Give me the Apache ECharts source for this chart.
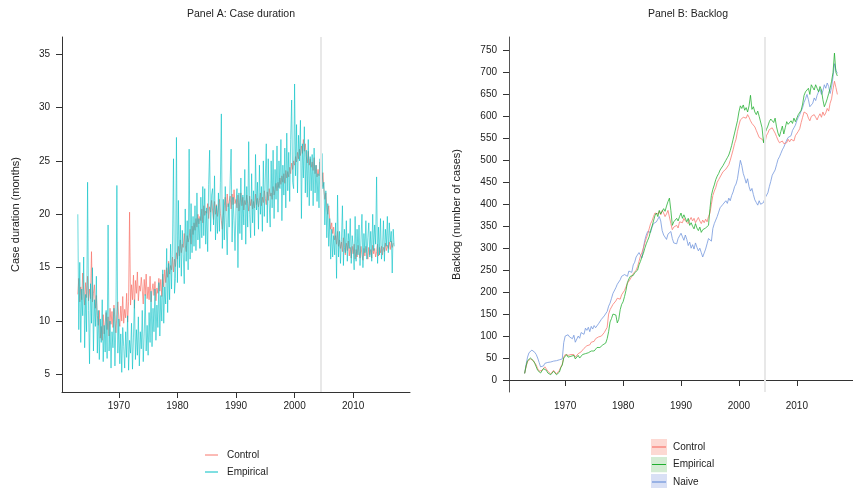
<!DOCTYPE html>
<html>
<head>
<meta charset="utf-8">
<script src="https://cdn.jsdelivr.net/npm/echarts@6/dist/echarts.min.js"></script>
<style>
  html, body { margin: 0; padding: 0; background: #fff; }
  #main { width: 853px; height: 488px; }
</style>
</head>
<body>
<div id="main"></div>
<script>
// Panel A: case duration, bi-monthly readings starting 1963
var startA = 1963;
var perYearA = 6;
var durationControl = [
  12.5, 14.0, 11.8, 13.2, 12.0, 14.5,
  12.8, 11.5, 13.6, 12.2, 14.2, 11.9,
  13.0, 12.1, 16.5, 11.8, 12.6, 13.4,
  11.2, 12.4, 10.5, 9.6, 11.0, 8.4,
  9.5, 8.2, 10.6, 8.8, 9.9, 10.8,
  9.2, 10.4, 8.6, 11.2, 9.7, 10.9,
  9.4, 11.5, 10.1, 8.9, 10.6, 11.8,
  10.2, 9.5, 11.4, 10.0, 12.3, 9.8,
  11.1, 10.3, 12.6, 9.9, 11.8, 20.2,
  11.5, 13.4, 12.0, 14.3, 11.2, 13.8,
  12.6, 14.6, 11.9, 13.3, 12.8, 14.1,
  13.0, 11.6, 13.9, 12.4, 14.4, 12.1,
  13.2, 12.0, 14.2, 11.8, 12.9, 13.5,
  12.4, 13.7, 11.9, 13.1, 12.6, 14.0,
  12.8, 13.9, 12.3, 14.4, 13.2, 14.8,
  13.6, 15.0, 14.1, 15.6, 14.4, 15.2,
  14.8, 16.0, 14.6, 15.8, 15.1, 16.4,
  15.8, 17.0, 16.1, 17.6, 16.4, 17.2,
  16.9, 18.2, 17.1, 16.5, 18.0, 17.4,
  17.8, 18.6, 17.2, 18.9, 18.1, 19.2,
  18.5, 19.6, 18.8, 20.0, 19.1, 19.8,
  19.4, 20.5, 19.2, 20.8, 19.9, 20.3,
  20.1, 21.0, 19.6, 20.7, 20.2, 21.3,
  20.4, 19.5, 21.2, 20.0, 20.9, 19.8,
  20.6, 21.4, 20.1, 19.4, 18.6, 19.9,
  20.8, 21.6, 20.3, 21.9, 20.7, 21.2,
  21.7, 20.5, 21.9, 20.9, 22.3, 21.0,
  21.4, 20.6, 21.8, 20.3, 21.1, 22.0,
  20.8, 21.6, 20.4, 21.3, 20.9, 21.8,
  21.0, 20.3, 21.7, 20.8, 21.4, 20.5,
  21.2, 20.6, 21.9, 20.9, 21.5, 20.7,
  21.3, 22.0, 20.8, 21.6, 21.1, 22.2,
  21.5, 20.9, 22.1, 21.3, 22.4, 21.7,
  22.0, 21.4, 22.6, 21.8, 22.3, 22.9,
  22.2, 23.0, 22.5, 23.4, 22.8, 23.6,
  23.0, 23.8, 22.9, 24.1, 23.4, 24.0,
  23.5, 24.4, 23.8, 24.8, 24.2, 25.0,
  24.6, 25.4, 24.9, 25.8, 25.2, 26.1,
  25.5, 26.4, 25.7, 27.0, 25.9, 26.6,
  25.4, 24.8, 25.9, 24.6, 25.2, 24.4,
  24.9, 24.1, 25.3, 23.8, 24.6, 23.5,
  24.2, 23.6, 24.9, 23.3, 22.6, 23.9,
  22.3, 21.4, 22.0, 20.6, 20.0, 20.8,
  19.4, 18.6, 19.2, 18.2, 18.8, 17.6,
  18.0, 17.2, 18.4, 17.0, 17.6, 16.8,
  17.4, 16.5, 17.8, 16.9, 16.2, 17.3,
  16.6, 17.5, 16.1, 16.9, 15.9, 17.0,
  16.3, 17.2, 15.8, 16.7, 16.0, 17.1,
  16.5, 15.9, 17.0, 16.2, 15.7, 16.8,
  16.1, 17.0, 16.4, 15.8, 16.9, 16.2,
  16.7, 15.9, 17.1, 16.3, 16.8, 16.0,
  16.5, 17.2, 16.1, 16.9, 16.4, 17.0,
  16.2, 16.9, 16.5, 17.3, 16.6, 17.1,
  16.8, 17.4, 16.7, 17.5, 16.9, 17.3,
  17.2
];
var durationEmpirical = [
  20.0, 9.2, 15.5, 8.0, 13.0, 10.5,
  16.0, 7.5, 12.5, 9.0, 23.0, 11.0,
  6.0, 13.5, 9.8, 15.0, 7.2, 12.0,
  9.5, 14.2, 7.0, 11.0, 6.4, 10.2,
  8.0, 12.0, 6.2, 9.6, 7.1, 11.0,
  6.5, 19.0, 7.2, 10.0, 5.6, 9.0,
  7.5, 11.2, 5.8, 9.8, 22.7, 7.0,
  10.2, 6.0, 8.8, 5.2, 9.4, 7.6,
  5.6, 9.0, 6.6, 10.5, 5.4, 8.2,
  7.0, 9.8, 5.5, 8.5, 12.0, 6.4,
  9.2, 6.8, 10.4, 5.8, 9.0, 7.4,
  11.0, 6.2, 8.8, 12.5, 7.2, 9.6,
  6.8, 10.8, 8.0, 12.8, 7.6, 11.2,
  9.0, 13.0, 8.2, 11.5, 9.4, 13.6,
  8.6, 12.4, 10.0, 14.8, 9.8, 13.2,
  11.6, 16.8, 10.8, 15.4, 12.0, 17.2,
  13.0, 17.5, 25.2, 12.6, 14.0, 27.2,
  13.6, 21.3, 15.0, 19.0, 14.2, 18.5,
  16.2, 13.5, 20.5, 15.6, 19.4, 14.8,
  26.1, 15.8, 21.0, 16.4, 19.8, 17.0,
  20.8, 16.6, 22.0, 17.6, 19.6, 16.8,
  21.6, 17.8, 22.6, 18.0, 22.4, 17.2,
  20.6, 16.5, 22.8, 26.0, 18.4, 21.8,
  22.4, 19.0, 23.6, 17.6, 20.8, 18.2,
  22.0, 18.4, 23.0, 29.4, 16.8, 21.4,
  17.6, 22.6, 19.2, 16.2, 21.0, 18.8,
  23.2, 26.1, 17.4, 21.6, 19.4, 16.6,
  20.8, 22.4, 15.0, 22.0, 18.2, 23.4,
  17.6, 21.8, 19.0, 24.2, 17.2, 22.6,
  18.8, 26.8, 20.0, 17.8, 23.8, 19.2,
  22.2, 18.0, 25.6, 20.4, 23.0, 18.6,
  24.6, 20.0, 22.6, 18.4, 25.0, 19.8,
  23.4, 26.6, 19.2, 25.2, 21.0, 18.8,
  25.0, 20.6, 26.0, 19.6, 24.2, 21.4,
  26.4, 20.2, 25.0, 22.4, 27.0, 19.4,
  24.6, 21.8, 26.2, 20.6, 27.6, 22.2,
  25.8, 21.2, 27.0, 30.7, 23.0, 22.4,
  32.2, 23.6, 28.4, 22.0, 27.4, 25.0,
  28.8, 19.6, 26.6, 23.4, 28.2, 22.0,
  26.0, 21.6, 27.0, 20.8, 25.4, 22.2,
  25.6, 20.8, 26.2, 22.0, 24.6, 21.2,
  23.8, 20.6, 25.2, 21.6, 25.7, 22.4,
  23.0, 19.0, 22.2, 17.8, 21.0, 17.0,
  19.6, 15.8, 18.6, 16.0, 18.0, 16.2,
  19.2, 14.0, 21.8, 16.0, 18.4, 15.4,
  17.6, 20.8, 15.2, 18.6, 16.4, 19.4,
  15.6, 18.2, 16.8, 19.6, 15.4, 18.0,
  17.0, 14.8, 19.8, 15.6, 18.6, 16.2,
  19.0, 15.2, 17.6, 20.0, 15.0, 18.2,
  16.4, 19.4, 15.8, 17.8, 19.2, 16.0,
  18.4, 15.6, 20.0, 16.6, 19.0, 17.2,
  23.5, 15.4, 18.8, 16.2, 19.6, 15.8,
  16.8, 19.4, 15.6, 18.6, 17.0, 19.8,
  16.4, 19.2, 17.4, 18.4, 14.5, 18.6,
  17.0
];

// Panel B: backlog, quarterly readings starting 1963
var startB = 1963;
var perYearB = 4;
var backlogControl = [
  15, 30, 42, 46,  48, 47, 44, 40,  34, 26, 20, 18,  22, 26, 30, 26,
  20, 16, 14, 18,  22, 18, 14, 16,  22, 30, 36, 52,  58, 62, 56, 60,
  58, 54, 58, 52,  56, 60, 58, 64,  68, 72, 70, 78,  82, 80, 86, 90,
  88, 94, 92, 98,  96, 100, 104, 108,  106, 120, 150, 160,  166, 172, 168, 180,
  186, 190, 184, 194,  198, 204, 212, 220,  224, 230, 236, 242,  246, 250, 258, 270,
  282, 290, 300, 312,  322, 332, 344, 356,  362, 372, 380, 384,  378, 384, 376, 386,
  380, 372, 378, 386,  382, 356, 342, 348,  344, 352, 346, 360,  364, 358, 368, 362,
  366, 356, 364, 370,  362, 368, 358, 364,  370, 362, 356, 364,  358, 366, 360, 372,
  380, 400, 420, 430,  438, 450, 456, 462,  466, 474, 470, 480,  484, 490, 500, 512,
  524, 538, 548, 566,  580, 592, 590, 598,  602, 596, 604, 598,  590, 584, 586, 576,
  568, 560, 552, 556,  548, 552, 540, 556,  562, 570, 566, 574,  572, 562, 554, 546,
  540, 536, 544, 538,  534, 540, 548, 542,  548, 552, 544, 556,  560, 566, 572, 586,
  598, 610, 614, 606,  596, 590, 600, 596,  604, 598, 592, 600,  606, 598, 610, 602,
  608, 618, 612, 630,  640, 662, 680, 666,  650
];
var backlogEmpirical = [
  15, 32, 44, 48,  50, 48, 44, 38,  30, 22, 18, 16,  20, 26, 28, 22,
  16, 14, 12, 16,  20, 16, 12, 14,  18, 28, 34, 50,  54, 58, 52, 56,
  54, 50, 56, 48,  52, 56, 50, 54,  58, 56, 60, 58,  62, 60, 66, 68,
  66, 70, 74, 76,  74, 78, 80, 84,  84, 94, 110, 132,  140, 150, 154, 148,
  130, 138, 160, 172,  178, 190, 204, 222,  230, 236, 240, 238,  244, 246, 250, 262,
  270, 280, 288, 300,  310, 318, 326, 340,  350, 362, 374, 380,  372, 386, 378, 382,
  390, 384, 396, 406,  414, 386, 352, 360,  356, 368, 362, 372,  380, 368, 376, 372,
  360, 368, 352, 358,  350, 344, 356, 346,  340, 348, 336, 342,  338, 346, 342, 352,
  390, 420, 434, 444,  456, 464, 470, 478,  476, 488, 494, 500,  506, 512, 522, 534,
  548, 562, 576, 590,  610, 624, 618, 626,  614, 620, 610, 624,  648, 616, 622, 610,
  604, 612, 600, 596,  574, 540, 562, 570,  578, 588, 594, 590,  586, 596, 576, 562,
  554, 566, 578, 560,  574, 588, 582, 578,  590, 584, 596, 588,  592, 604, 600, 614,
  628, 648, 656, 660,  664, 650, 672, 668,  660, 672, 664, 656,  668, 660, 638, 622,
  630, 640, 652, 664,  680, 700, 744, 700,  692
];
var backlogNaive = [
  15, 35, 52, 62,  66, 68, 67, 63,  58, 50, 40, 30,  27, 32, 38, 42,
  40, 44, 41, 45,  43, 40, 44, 42,  46, 44, 48, 85,  100, 96, 103, 98,
  100, 94, 102, 86,  90, 100, 95, 108,  112, 104, 118, 113,  120, 110, 122, 116,
  124, 119, 121, 128,  130, 138, 134, 146,  150, 156, 168, 175,  186, 197, 200, 210,
  218, 222, 228, 236,  232, 240, 242, 236,  248, 252, 245, 262,  268, 280, 276, 290,
  286, 278, 300, 318,  330, 338, 342, 336,  348, 356, 352, 360,  366, 372, 362, 340,
  330, 326, 320, 332,  328, 338, 322, 312,  316, 310, 322, 328,  334, 326, 318, 330,
  320, 306, 314, 300,  308, 298, 312, 302,  294, 300, 290, 280,  277, 298, 310, 322,
  320, 316, 345, 356,  364, 372, 382, 392,  388, 400, 396, 408,  402, 414, 408, 420,
  428, 440, 446, 458,  480, 500, 488, 470,  460, 448, 458, 440,  430, 436, 422, 410,
  404, 398, 408, 400,  396, 404, 414, 412,  426, 440, 452, 466,  470, 478, 490, 502,
  508, 516, 524, 530,  538, 546, 552, 548,  556, 568, 574, 580,  590, 598, 604, 612,
  620, 632, 640, 650,  638, 622, 618, 630,  642, 636, 648, 656,  662, 650, 658, 672,
  664, 676, 668, 652,  666, 690, 720, 705,  698
];
var controlBandHalf = 14;

var policyYear = 2004.4;
var yearTicks = [1970, 1980, 1990, 2000, 2010];
var durationTicks = [5, 10, 15, 20, 25, 30, 35];
var backlogTicks = [0, 50, 100, 150, 200, 250, 300, 350, 400, 450, 500, 550, 600, 650, 700, 750];

var RED = '#F8766D', TEAL = '#00BFC4', GREEN = '#1FAE2E', BLUE = '#6F93DB';
var FONT = 'Liberation Sans, Arial, sans-serif';

function pairs(arr, start, perYear) {
    return arr.map(function (v, i) { return [start + i / perYear, v]; });
}

function lineIcon(color) {
    var svg = '<svg xmlns="http://www.w3.org/2000/svg" width="17" height="12">' +
        '<line x1="0" y1="6" x2="13" y2="6" stroke="' + color + '" stroke-width="1"/></svg>';
    return 'image://data:image/svg+xml;charset=utf-8,' + encodeURIComponent(svg);
}
function bandIcon(fill, color) {
    var svg = '<svg xmlns="http://www.w3.org/2000/svg" width="17" height="16">' +
        '<rect x="0" y="0" width="16" height="16" fill="' + fill + '"/>' +
        '<line x1="1" y1="8" x2="15" y2="8" stroke="' + color + '" stroke-width="1.2"/></svg>';
    return 'image://data:image/svg+xml;charset=utf-8,' + encodeURIComponent(svg);
}

function xAxisFor(idx) {
    return {
        type: 'value', gridIndex: idx, min: 1960.3, max: 2019.7,
        axisLine: { show: true, lineStyle: { color: '#333', width: 1 } },
        axisTick: { show: true, length: 6, customValues: yearTicks, lineStyle: { color: '#333' } },
        axisLabel: {
            customValues: yearTicks, margin: 9, fontSize: 10, color: '#222', fontFamily: FONT,
            formatter: function (v) { return String(v); }
        },
        splitLine: { show: false }
    };
}

var bandLow = backlogControl.map(function (v, i) { return [startB + i / perYearB, v - controlBandHalf]; });
var bandSpan = backlogControl.map(function (v, i) { return [startB + i / perYearB, 2 * controlBandHalf]; });

// 灰色竖线，标出 policyYear
var gapLine = {
    silent: true, symbol: 'none', label: { show: false },
    lineStyle: { color: '#e8e8e8', width: 2, type: 'solid' },
    data: [{ xAxis: policyYear }]
};

var myChart = echarts.init(document.getElementById('main'));

var option = {
    animation: false,
    backgroundColor: '#fff',
    textStyle: { fontFamily: FONT },
    title: [
        { text: 'Panel A: Case duration', left: 236, top: 4, textAlign: 'center',
          textStyle: { fontSize: 10.5, fontWeight: 'normal', color: '#222', fontFamily: FONT } },
        { text: 'Panel B: Backlog', left: 683, top: 4, textAlign: 'center',
          textStyle: { fontSize: 10.5, fontWeight: 'normal', color: '#222', fontFamily: FONT } }
    ],
    grid: [
        { left: 62, top: 37, width: 348, height: 355 },
        { left: 509, top: 37, width: 348, height: 355 }
    ],
    xAxis: [xAxisFor(0), xAxisFor(1)],
    yAxis: [
        {
            type: 'value', gridIndex: 0, min: 3.36, max: 36.6,
            name: 'Case duration (months)', nameLocation: 'middle', nameGap: 41,
            nameTextStyle: { fontSize: 11, color: '#222', fontFamily: FONT },
            axisLine: { show: true, lineStyle: { color: '#333' } },
            axisTick: { show: true, length: 6, customValues: durationTicks, lineStyle: { color: '#333' } },
            axisLabel: { customValues: durationTicks, margin: 12, fontSize: 10, color: '#222', fontFamily: FONT },
            splitLine: { show: false }
        },
        {
            type: 'value', gridIndex: 1, min: -27.3, max: 780.7,
            name: 'Backlog (number of cases)', nameLocation: 'middle', nameGap: 47,
            nameTextStyle: { fontSize: 11, color: '#222', fontFamily: FONT },
            axisLine: { show: true, lineStyle: { color: '#555' } },
            axisTick: { show: true, length: 6, customValues: backlogTicks, lineStyle: { color: '#333' } },
            axisLabel: { customValues: backlogTicks, margin: 12, fontSize: 10, color: '#222', fontFamily: FONT },
            splitLine: { show: false }
        }
    ],
    legend: [
        {
            orient: 'vertical', left: 205, top: 449, padding: 0, height: 60,
            itemWidth: 17, itemHeight: 12, itemGap: 5,
            textStyle: { fontSize: 10, color: '#222', fontFamily: FONT },
            data: [
                { name: 'Control', icon: lineIcon(RED) },
                { name: 'Empirical', icon: lineIcon(TEAL) }
            ]
        },
        {
            orient: 'vertical', left: 651, top: 439, padding: 0, height: 80,
            itemWidth: 17, itemHeight: 16, itemGap: 1.5,
            textStyle: { fontSize: 10, color: '#222', fontFamily: FONT },
            data: [
                { name: 'Control ', icon: bandIcon('#FDD9D3', RED) },
                { name: 'Empirical ', icon: bandIcon('#D3ECD3', GREEN) },
                { name: 'Naive', icon: bandIcon('#D9E0F5', BLUE) }
            ]
        }
    ],
    series: [
        {
            name: 'Control', type: 'line', xAxisIndex: 0, yAxisIndex: 0,
            data: pairs(durationControl, startA, perYearA),
            showSymbol: false, color: RED,
            lineStyle: { width: 0.9, opacity: 0.8 },
            markLine: gapLine
        },
        {
            name: 'Empirical', type: 'line', xAxisIndex: 0, yAxisIndex: 0,
            data: pairs(durationEmpirical, startA, perYearA),
            showSymbol: false, color: TEAL,
            lineStyle: { width: 0.9, opacity: 0.65 }
        },
        {
            name: 'bandLow', type: 'line', xAxisIndex: 1, yAxisIndex: 1,
            data: bandLow, stack: 'band', showSymbol: false,
            lineStyle: { opacity: 0 }, silent: true,
            markLine: gapLine
        },
        {
            name: 'bandSpan', type: 'line', xAxisIndex: 1, yAxisIndex: 1,
            data: bandSpan, stack: 'band', showSymbol: false,
            lineStyle: { opacity: 0 }, silent: true,
            areaStyle: { color: RED, opacity: 0.22 }
        },
        {
            name: 'Naive', type: 'line', xAxisIndex: 1, yAxisIndex: 1,
            data: pairs(backlogNaive, startB, perYearB),
            showSymbol: false, color: BLUE,
            lineStyle: { width: 0.9, opacity: 0.85 }
        },
        {
            name: 'Control ', type: 'line', xAxisIndex: 1, yAxisIndex: 1,
            data: pairs(backlogControl, startB, perYearB),
            showSymbol: false, color: RED,
            lineStyle: { width: 0.9, opacity: 0.85 }
        },
        {
            name: 'Empirical ', type: 'line', xAxisIndex: 1, yAxisIndex: 1,
            data: pairs(backlogEmpirical, startB, perYearB),
            showSymbol: false, color: GREEN,
            lineStyle: { width: 0.9, opacity: 0.85 }
        }
    ]
};

myChart.setOption(option);

window.addEventListener('resize', function () {
    myChart.resize();
});
</script>
</body>
</html>
